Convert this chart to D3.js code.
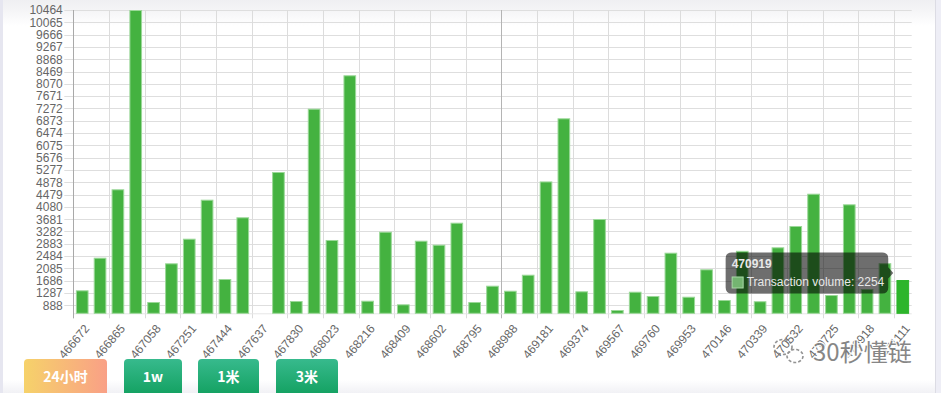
<!DOCTYPE html>
<html>
<head>
<meta charset="utf-8">
<script src="https://cdn.jsdelivr.net/npm/d3@7"></script>
<style>
  html, body { margin: 0; padding: 0; background: #fff; }
  svg { display: block; }
</style>
</head>
<body>
<div id="chart"></div>
<script>
// ---------- data ----------
const blocks = [
  "466672","466769","466865","466962","467058","467155","467251","467348","467444","467541",
  "467637","467734","467830","467927","468023","468120","468216","468313","468409","468506",
  "468602","468699","468795","468892","468988","469085","469181","469278","469374","469471",
  "469567","469664","469760","469857","469953","470050","470146","470243","470339","470436",
  "470532","470629","470725","470822","470918","470919","471111"
];
const volumes = [
  1374, 2432, 4650, 10464, 995, 2250, 3048, 4313, 1741, 3742,
  629, 5211, 1027, 7264, 3006, 8347, 1037, 3275, 920, 2983,
  2853, 3567, 995, 1524, 1361, 1880, 4905, 6952, 1342, 3687,
  736, 1329, 1190, 2594, 1167, 2055, 1060, 2655, 1020, 2769,
  3460, 4507, 1222, 4163, 1417, 2254, 1708
];
const yTicks = [888, 1287, 1686, 2085, 2484, 2883, 3282, 3681, 4080, 4479, 4878, 5277,
  5676, 6075, 6474, 6873, 7272, 7671, 8070, 8469, 8868, 9267, 9666, 10065, 10464];
const xTickLabels = blocks.filter((d, i) => i % 2 === 0);
const seriesName = "Transaction volume";
const tooltipBlock = "470919";
const buttons = ["24小时", "1w", "1米", "3米"];
const watermark = "30秒懂链";

// ---------- layout ----------
const W = 941, H = 393;
const plot = { left: 73.3, right: 911.7, top: 10, bottom: 313.3 };
const FONT = "'Liberation Sans', Arial, Helvetica, sans-serif";

const svg = d3.select("#chart").append("svg").attr("width", W).attr("height", H)
  .style("font-family", FONT);

const defs = svg.append("defs");
const gTop = defs.append("linearGradient").attr("id", "gTop").attr("x1", 0).attr("x2", 0).attr("y1", 0).attr("y2", 1);
gTop.append("stop").attr("offset", "0%").attr("stop-color", "#efeff2");
gTop.append("stop").attr("offset", "35%").attr("stop-color", "#f4f4f6");
gTop.append("stop").attr("offset", "100%").attr("stop-color", "#ffffff");
const gBot = defs.append("linearGradient").attr("id", "gBot").attr("x1", 0).attr("x2", 0).attr("y1", 0).attr("y2", 1);
gBot.append("stop").attr("offset", "0%").attr("stop-color", "#ffffff");
gBot.append("stop").attr("offset", "100%").attr("stop-color", "#f1f1f5");
const gOrange = defs.append("linearGradient").attr("id", "gOrange").attr("x1", 0).attr("x2", 1).attr("y1", 0).attr("y2", 0);
gOrange.append("stop").attr("offset", "0%").attr("stop-color", "#f6d26a");
gOrange.append("stop").attr("offset", "100%").attr("stop-color", "#f9a086");
const gGreen = defs.append("linearGradient").attr("id", "gGreen").attr("x1", 0).attr("x2", 0).attr("y1", 0).attr("y2", 1);
gGreen.append("stop").attr("offset", "0%").attr("stop-color", "#37ba8d");
gGreen.append("stop").attr("offset", "100%").attr("stop-color", "#0f9e5c");

// background / card edges
svg.append("rect").attr("width", W).attr("height", H).attr("fill", "#fff");
svg.append("rect").attr("x", 0).attr("y", 0).attr("width", W).attr("height", 26).attr("fill", "url(#gTop)");
svg.append("rect").attr("x", 0).attr("y", 380).attr("width", W).attr("height", 13).attr("fill", "url(#gBot)");
svg.append("rect").attr("x", 0).attr("y", 0).attr("width", 3).attr("height", H).attr("fill", "#e6e6f0");
svg.append("rect").attr("x", 935).attr("y", 0).attr("width", 6).attr("height", H).attr("fill", "#eeeef6");
svg.append("line").attr("x1", 935.5).attr("x2", 935.5).attr("y1", 0).attr("y2", H).attr("stroke", "#dcdce4");

// ---------- scales ----------
const x = d3.scaleBand().domain(blocks).range([plot.left, plot.right])
  .paddingInner(0.29).paddingOuter(0.145);
const y = d3.scaleLinear().domain([d3.min(volumes), d3.max(yTicks)]).range([plot.bottom, plot.top]);
const step = x.step();
const cellStart = b => x(b) - step * x.paddingInner() / 2;

// ---------- grid ----------
const grid = svg.append("g");
grid.selectAll("line.h").data(yTicks).join("line")
  .attr("x1", plot.left - 9).attr("x2", plot.right)
  .attr("y1", d => Math.round(y(d)) + 0.5).attr("y2", d => Math.round(y(d)) + 0.5)
  .attr("stroke", "#dedede").attr("stroke-width", 1);
grid.selectAll("line.v").data(xTickLabels).join("line")
  .attr("x1", d => Math.round(cellStart(d)) + 0.5).attr("x2", d => Math.round(cellStart(d)) + 0.5)
  .attr("y1", plot.top).attr("y2", plot.bottom + 5)
  .attr("stroke", (d, i) => i === 12 ? "#b4b4b4" : "#dcdcdc").attr("stroke-width", 1);
grid.append("line").attr("x1", plot.left).attr("x2", plot.right)
  .attr("y1", plot.bottom + 0.5).attr("y2", plot.bottom + 0.5).attr("stroke", "#e6e6e6");

// ---------- bars ----------
svg.append("g").selectAll("rect").data(volumes).join("rect")
  .attr("x", (d, i) => x(blocks[i]) + 0.5)
  .attr("width", x.bandwidth() - 1)
  .attr("y", d => y(d) + 0.5)
  .attr("height", d => Math.max(0, y.range()[0] - y(d) - 0.5))
  .attr("fill", (d, i) => i === blocks.length - 1 ? "#2db52b" : "#44b240")
  .attr("stroke", (d, i) => i === blocks.length - 1 ? "#2db52b" : "#9bd898")
  .attr("stroke-width", 1);

// ---------- y axis ----------
const yAxis = svg.append("g").attr("transform", `translate(${plot.left},0)`)
  .call(d3.axisLeft(y).tickValues(yTicks).tickSize(0).tickPadding(10.5).tickFormat(d3.format("d")));
yAxis.select(".domain").remove();
yAxis.selectAll("text").attr("fill", "#666").style("font-size", "12px").style("font-family", FONT);
svg.append("line").attr("x1", Math.round(plot.left) + 0.5).attr("x2", Math.round(plot.left) + 0.5)
  .attr("y1", plot.top).attr("y2", plot.bottom + 5).attr("stroke", "#a9a9a9");

// ---------- x axis labels ----------
svg.append("g").selectAll("text").data(xTickLabels).join("text")
  .attr("transform", d => `translate(${x(d) + x.bandwidth() / 2 + 4.8},326.3) rotate(-50)`)
  .attr("text-anchor", "end").attr("dominant-baseline", "central")
  .attr("fill", "#666").style("font-size", "12px")
  .text(d => d);

// ---------- tooltip ----------
const ti = blocks.indexOf(tooltipBlock);
const tcx = x(tooltipBlock) + x.bandwidth() / 2;
const tcy = y(volumes[ti]);
const tip = svg.append("g").attr("transform", `translate(${tcx},${tcy})`);
const bx0 = -159.3, bx1 = 3.3, by0 = -10.7, by1 = 30.3, r = 6;
tip.append("path")
  .attr("d", `M${bx0 + r},${by0} H${bx1 - r} Q${bx1},${by0} ${bx1},${by0 + r} V4 L${bx1 + 5},9.7 L${bx1},15.4 V${by1 - r} Q${bx1},${by1} ${bx1 - r},${by1} H${bx0 + r} Q${bx0},${by1} ${bx0},${by1 - r} V${by0 + r} Q${bx0},${by0} ${bx0 + r},${by0} Z`)
  .attr("fill", "rgba(0,0,0,0.57)");
tip.append("text").attr("x", bx0 + 6).attr("y", 5.3)
  .attr("fill", "#e8e8e8").style("font-size", "12px").style("font-weight", "bold")
  .text(tooltipBlock);
tip.append("rect").attr("x", bx0 + 6.5).attr("y", 13.8).attr("width", 11).attr("height", 11)
  .attr("fill", "#74b571").attr("stroke", "#a9d8a6").attr("stroke-width", 1);
tip.append("text").attr("x", bx0 + 21).attr("y", 23.3)
  .attr("fill", "#e8e8e8").style("font-size", "12px")
  .text(`${seriesName}: ${volumes[ti]}`);

// ---------- buttons ----------
const btnGeom = [[24, 83], [124, 58], [198, 61], [276, 62]];
const bg = svg.append("g");
buttons.forEach((b, i) => {
  const [bx, bw] = btnGeom[i];
  bg.append("rect").attr("x", bx).attr("y", 359).attr("width", bw).attr("height", 40).attr("rx", 4)
    .attr("fill", i === 0 ? "url(#gOrange)" : "url(#gGreen)");
  bg.append("text").attr("x", bx + bw / 2).attr("y", 376).attr("text-anchor", "middle")
    .attr("dominant-baseline", "central").attr("fill", "#fff")
    .style("font-size", "14px").style("font-weight", "bold")
    .style("font-family", "'Noto Sans CJK SC', 'Liberation Sans', sans-serif")
    .text(b);
});

// ---------- watermark ----------
const wm = svg.append("g").attr("opacity", 0.9);
wm.append("ellipse").attr("cx", 783).attr("cy", 347).attr("rx", 9).attr("ry", 7.5)
  .attr("fill", "none").attr("stroke", "#888").attr("stroke-width", 1.6).attr("stroke-dasharray", "3 2");
wm.append("ellipse").attr("cx", 795).attr("cy", 356).attr("rx", 8).attr("ry", 6.5)
  .attr("fill", "none").attr("stroke", "#888").attr("stroke-width", 1.6).attr("stroke-dasharray", "3 2");
wm.append("text").attr("x", 813).attr("y", 361)
  .attr("fill", "#7a7a7a").attr("stroke", "#fff").attr("stroke-width", 2.5).attr("paint-order", "stroke")
  .style("font-size", "24px").style("font-family", "'Noto Sans CJK SC', sans-serif")
  .text(watermark);
</script>
</body>
</html>
